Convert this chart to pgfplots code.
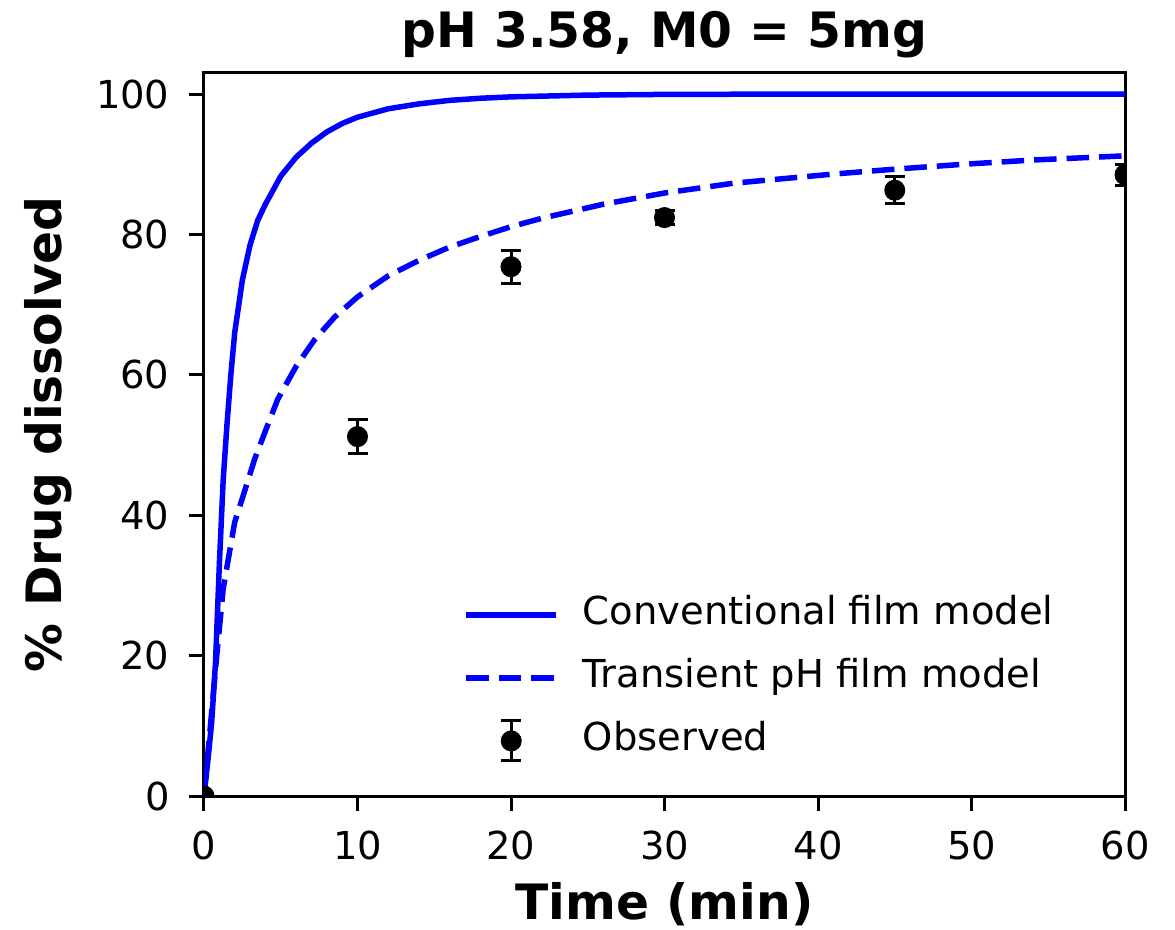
\documentclass[border=0pt]{standalone}
\usepackage{fontspec}
\setmainfont{DejaVu Sans}
\usepackage{pgfplots}
\pgfplotsset{compat=1.18}
\definecolor{mplblue}{RGB}{0,0,255}
\begin{document}
\begin{tikzpicture}
\useasboundingbox (-81.6pt,-53.2pt) rectangle (388.4pt,318.4pt);
\begin{axis}[
  at={(0,0)}, anchor=south west,
  scale only axis, width=368.4pt, height=289.2pt,
  xmin=0, xmax=60, ymin=0, ymax=103,
  xtick={0,10,...,60}, ytick={0,20,...,100},
  tick align=outside, tick pos=left,
  major tick length=6pt,
  every tick/.style={black, line width=1.2pt},
  axis line style={line width=1.2pt},
  /pgf/number format/assume math mode=true,
  ticklabel style={font=\fontsize{15.4}{18}\selectfont, inner sep=0pt},
  xticklabel style={anchor=north, yshift=-7.6pt},
  yticklabel style={anchor=east, xshift=-7.6pt},
  title={pH 3.58, M0 = 5mg},
  every axis title/.style={at={(axis description cs:0.5,1.0346)}, anchor=base, font=\fontsize{19.5}{23}\selectfont\bfseries, inner sep=0pt},
  xlabel={Time (min)},
  xlabel style={at={(axis description cs:0.5,-0.1715)}, anchor=base, font=\fontsize{19.5}{23}\selectfont\bfseries, inner sep=0pt},
  ylabel={\% Drug dissolved},
  ylabel style={at={(axis description cs:-0.1542,0.5)}, anchor=base, font=\fontsize{19.5}{23}\selectfont\bfseries, inner sep=0pt},
  clip marker paths=true,
  legend style={at={(axis description cs:0.2812,0.2762)}, anchor=north west, draw=none, fill=none, inner sep=0pt,
    row sep=10.7pt, column sep=9.6pt, font=\fontsize{15.4}{18}\selectfont,
    nodes={inner sep=0pt, text height=11pt, text depth=3.5pt}},
  legend cell align=left,
]
\addplot[mplblue, line width=2.2pt, line join=round,
  legend image code/.code={\draw[mplblue, line width=2.2pt] (0pt,0pt) -- (36pt,0pt);}]
  coordinates {
  (0,0) (0.25,5) (0.5,10.5) (0.75,19) (1,33) (1.25,45) (1.5,53) (1.75,60) (2,66)
  (2.5,73.5) (3,78.5) (3.5,82) (4,84.3) (5,88.3) (6,91) (7,93) (8,94.6) (9,95.8)
  (10,96.7) (12,97.9) (14,98.6) (16,99.1) (18,99.4) (20,99.6) (25,99.85) (30,99.95) (40,100) (60,100)
  };
\addlegendentry{Conventional film model}
\addplot[mplblue, line width=2.2pt, dash pattern=on 9pt off 4pt,
  legend image code/.code={\draw[mplblue, line width=2.2pt, dash pattern=on 9pt off 4pt] (0pt,0pt) -- (36pt,0pt);}]
  coordinates {
  (0,0) (0.25,6) (0.5,12) (0.83,20) (1.25,29.5) (1.8,36.5) (2,39) (2.67,43.6) (3.3,48)
  (4,52) (4.8,56.5) (6,61.2) (7.2,65) (8.5,68.2) (10,71.1) (12,74.1) (14,76.3) (16,78.2)
  (18,79.7) (20,81.1) (22,82.3) (26,84.3) (30,85.9) (34.5,87.3) (38,88.0) (41,88.6)
  (45,89.3) (49.5,90.0) (54,90.6) (58,91.0) (60,91.2)
  };
\addlegendentry{Transient pH film model}
\addplot[black, only marks, mark=*, mark size=4pt,
  legend image code/.code={
    \path[draw=none, fill=none] (0pt,-1.1pt) rectangle (36pt,1.1pt);
    \draw[overlay, black, line width=1.2pt] (18pt,-8pt) -- (18pt,8pt);
    \draw[overlay, black, line width=1.2pt] (14pt,-8pt) -- (22pt,-8pt) (14pt,8pt) -- (22pt,8pt);
    \fill[overlay, black] (18pt,0pt) circle (4pt);},
  error bars/.cd, y dir=both, y explicit,
  error bar style={line width=1.2pt, black},
  error mark options={rotate=90, mark size=4pt, line width=1.2pt, black}]
  coordinates {
  (0,0) +- (0,0.3)
  (10,51.2) +- (0,2.4)
  (20,75.4) +- (0,2.35)
  (30,82.4) +- (0,1.0)
  (45,86.3) +- (0,1.9)
  (60,88.5) +- (0,1.5)
  };
\addlegendentry{Observed}
\end{axis}
\end{tikzpicture}
\end{document}
